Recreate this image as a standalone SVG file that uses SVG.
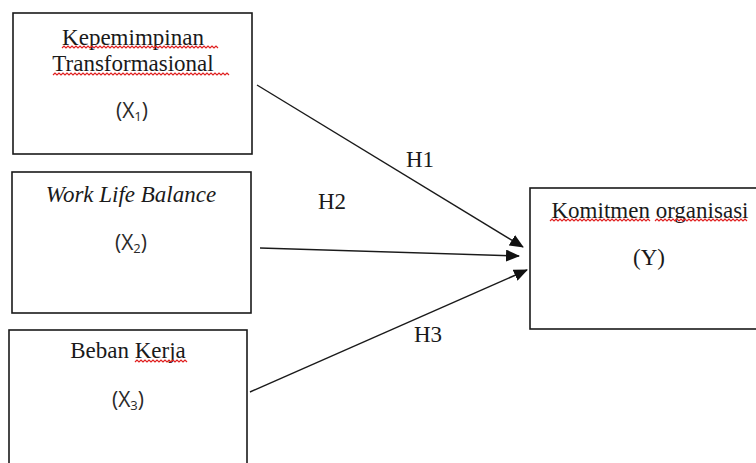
<svg xmlns="http://www.w3.org/2000/svg" width="756" height="463" viewBox="0 0 756 463">
<defs>
<style>
.box{fill:#fff;stroke:#1a1a1a;stroke-width:1.6}
.t{font-family:"Liberation Serif","Times New Roman",serif;font-size:23px;fill:#1a1a1a;text-anchor:middle}
.it{font-style:italic}
.v{font-family:"Open Sans","Liberation Sans",sans-serif;font-size:21px;fill:#2a2a2a;text-anchor:middle}
.sub{font-size:13px}
.conn{stroke:#1a1a1a;stroke-width:1.4;fill:none}
.sq{stroke:#e02020;stroke-width:1.2;fill:none}
</style>
<marker id="ah" markerWidth="14" markerHeight="12" refX="13" refY="6" orient="auto" markerUnits="userSpaceOnUse">
<path d="M0,0 L14,6 L0,12 Z" fill="#111"/>
</marker>
</defs>
<rect width="756" height="463" fill="#fff"/>

<g id="x1">
<rect class="box" x="13" y="13" width="239" height="141"/>
<text class="t" x="133" y="45">Kepemimpinan</text>
<text class="t" x="133" y="71">Transformasional</text>
<text class="v" x="132" y="118">(X<tspan class="sub" dy="3">1</tspan><tspan dy="-3">)</tspan></text>
<path class="sq" d="M62,48 l2,-2 l2,2 l2,-2 l2,2 l2,-2 l2,2 l2,-2 l2,2 l2,-2 l2,2 l2,-2 l2,2 l2,-2 l2,2 l2,-2 l2,2 l2,-2 l2,2 l2,-2 l2,2 l2,-2 l2,2 l2,-2 l2,2 l2,-2 l2,2 l2,-2 l2,2 l2,-2 l2,2 l2,-2 l2,2 l2,-2 l2,2 l2,-2 l2,2 l2,-2 l2,2 l2,-2 l2,2 l2,-2 l2,2 l2,-2 l2,2 l2,-2 l2,2 l2,-2 l2,2 l2,-2 l2,2 l2,-2 l2,2 l2,-2 l2,2 l2,-2 l2,2 l2,-2 l2,2 l2,-2 l2,2 l2,-2 l2,2 l2,-2 l2,2 l2,-2 l2,2 l2,-2 l2,2 l2,-2 l2,2 l2,-2 l2,2 l2,-2 l2,2 l2,-2 l2,2 l2,-2 l2,2"/>
<path class="sq" d="M53,75 l2,-2 l2,2 l2,-2 l2,2 l2,-2 l2,2 l2,-2 l2,2 l2,-2 l2,2 l2,-2 l2,2 l2,-2 l2,2 l2,-2 l2,2 l2,-2 l2,2 l2,-2 l2,2 l2,-2 l2,2 l2,-2 l2,2 l2,-2 l2,2 l2,-2 l2,2 l2,-2 l2,2 l2,-2 l2,2 l2,-2 l2,2 l2,-2 l2,2 l2,-2 l2,2 l2,-2 l2,2 l2,-2 l2,2 l2,-2 l2,2 l2,-2 l2,2 l2,-2 l2,2 l2,-2 l2,2 l2,-2 l2,2 l2,-2 l2,2 l2,-2 l2,2 l2,-2 l2,2 l2,-2 l2,2 l2,-2 l2,2 l2,-2 l2,2 l2,-2 l2,2 l2,-2 l2,2 l2,-2 l2,2 l2,-2 l2,2 l2,-2 l2,2 l2,-2 l2,2 l2,-2 l2,2 l2,-2 l2,2 l2,-2 l2,2 l2,-2 l2,2 l2,-2 l2,2 l2,-2 l2,2"/>
</g>

<g id="x2">
<rect class="box" x="12" y="172" width="239" height="141"/>
<text class="t it" x="131" y="202">Work Life Balance</text>
<text class="v" x="131" y="250">(X<tspan class="sub" dy="3">2</tspan><tspan dy="-3">)</tspan></text>
</g>

<g id="x3">
<rect class="box" x="9" y="330" width="238" height="150"/>
<text class="t" x="128" y="358">Beban Kerja</text>
<text class="v" x="128" y="407">(X<tspan class="sub" dy="3">3</tspan><tspan dy="-3">)</tspan></text>
<path class="sq" d="M135,362 l2,-2 l2,2 l2,-2 l2,2 l2,-2 l2,2 l2,-2 l2,2 l2,-2 l2,2 l2,-2 l2,2 l2,-2 l2,2 l2,-2 l2,2 l2,-2 l2,2 l2,-2 l2,2 l2,-2 l2,2 l2,-2 l2,2 l2,-2 l2,2"/>
</g>

<g id="y">
<rect class="box" x="530" y="188" width="240" height="141"/>
<text class="t" x="650" y="218">Komitmen organisasi</text>
<text class="t" x="649" y="265">(Y)</text>
<path class="sq" d="M550,221 l2,-2 l2,2 l2,-2 l2,2 l2,-2 l2,2 l2,-2 l2,2 l2,-2 l2,2 l2,-2 l2,2 l2,-2 l2,2 l2,-2 l2,2 l2,-2 l2,2 l2,-2 l2,2 l2,-2 l2,2 l2,-2 l2,2 l2,-2 l2,2 l2,-2 l2,2 l2,-2 l2,2 l2,-2 l2,2 l2,-2 l2,2 l2,-2 l2,2 l2,-2 l2,2 l2,-2 l2,2 l2,-2 l2,2 l2,-2 l2,2 l2,-2 l2,2 l2,-2 l2,2 l2,-2 l2,2"/>
<path class="sq" d="M655,221 l2,-2 l2,2 l2,-2 l2,2 l2,-2 l2,2 l2,-2 l2,2 l2,-2 l2,2 l2,-2 l2,2 l2,-2 l2,2 l2,-2 l2,2 l2,-2 l2,2 l2,-2 l2,2 l2,-2 l2,2 l2,-2 l2,2 l2,-2 l2,2 l2,-2 l2,2 l2,-2 l2,2 l2,-2 l2,2 l2,-2 l2,2 l2,-2 l2,2 l2,-2 l2,2 l2,-2 l2,2 l2,-2 l2,2 l2,-2 l2,2 l2,-2 l2,2"/>
</g>

<g id="connectors">
<line class="conn" x1="257" y1="85" x2="523" y2="247" marker-end="url(#ah)"/>
<line class="conn" x1="260" y1="248" x2="519" y2="256" marker-end="url(#ah)"/>
<line class="conn" x1="250" y1="392" x2="527" y2="270" marker-end="url(#ah)"/>
<text class="t" x="420" y="167">H1</text>
<text class="t" x="332" y="209">H2</text>
<text class="t" x="428" y="342">H3</text>
</g>
</svg>
